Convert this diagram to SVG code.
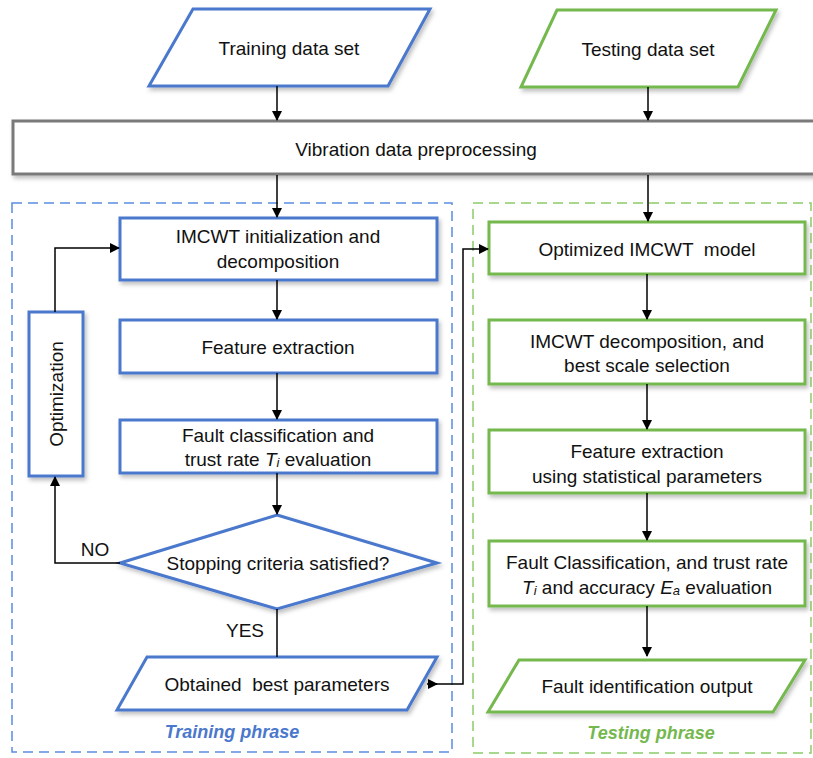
<svg xmlns="http://www.w3.org/2000/svg" width="813" height="758" viewBox="0 0 813 758">
<defs>
<filter id="sh" x="-10%" y="-10%" width="130%" height="140%">
<feDropShadow dx="2" dy="3" stdDeviation="2" flood-color="#000" flood-opacity="0.25"/>
</filter>
<marker id="ah" markerWidth="10" markerHeight="10" refX="9" refY="5" orient="auto" markerUnits="userSpaceOnUse">
<path d="M0,0 L10,5 L0,10 Z" fill="#000"/>
</marker>
</defs>
<style>
text{font-family:"Liberation Sans",Arial,sans-serif;font-size:19px;fill:#111;text-anchor:middle;dominant-baseline:central}
.b{fill:#fff;stroke:#4a78cc;stroke-width:3}
.g{fill:#fff;stroke:#74b84e;stroke-width:3}
.gr{fill:#fff;stroke:#7a7a7a;stroke-width:3}
.c{fill:none;stroke:#000;stroke-width:1.5}
.lbl{font-weight:bold;font-style:italic;font-size:18px}
.it{font-style:italic}
.sub{font-style:italic;font-size:13px}
</style>
<rect width="813" height="758" fill="#fff"/>
<g id="training-area">
<rect x="12" y="203" width="440" height="549" fill="none" stroke="#5b8ee0" stroke-width="1.5" stroke-dasharray="10,6"/>
<text class="lbl" x="232" y="732" style="fill:#4a78cc">Training phrase</text>
</g>
<g id="testing-area">
<rect x="473" y="203" width="338" height="550" fill="none" stroke="#8ccc6a" stroke-width="1.5" stroke-dasharray="10,6"/>
<text class="lbl" x="651" y="733" style="fill:#74b84e">Testing phrase</text>
</g>
<g id="training-data">
<polygon class="b" filter="url(#sh)" points="193,9 430,9 388,86 149,86"/>
<text x="289" y="48">Training data set</text>
</g>
<g id="testing-data">
<polygon class="g" filter="url(#sh)" points="557,10 776,10 738,87 521,87"/>
<text x="648" y="49">Testing data set</text>
</g>
<g id="preprocessing">
<rect class="gr" filter="url(#sh)" x="13" y="121" width="812" height="53"/>
<text x="416" y="149">Vibration data preprocessing</text>
</g>
<g id="imcwt-init">
<rect class="b" filter="url(#sh)" x="120" y="218" width="317" height="62"/>
<text x="278" y="236">IMCWT initialization and</text>
<text x="278" y="261">decomposition</text>
</g>
<g id="feature-extraction">
<rect class="b" filter="url(#sh)" x="120" y="320" width="317" height="53"/>
<text x="278" y="347">Feature extraction</text>
</g>
<g id="fault-classification">
<rect class="b" filter="url(#sh)" x="120" y="420" width="317" height="53"/>
<text x="278" y="435">Fault classification and</text>
<text x="278" y="459">trust rate <tspan class="it">T</tspan><tspan class="sub" dy="3">i</tspan><tspan dy="-3"> evaluation</tspan></text>
</g>
<g id="stopping">
<polygon class="b" filter="url(#sh)" points="277,515 437,563 277,609 120,563"/>
<text x="278" y="563">Stopping criteria satisfied?</text>
</g>
<g id="optimization">
<rect class="b" filter="url(#sh)" x="29" y="312" width="54" height="164"/>
<text x="56" y="394" transform="rotate(-90 56 394)">Optimization</text>
</g>
<g id="best-params">
<polygon class="b" filter="url(#sh)" points="147,657 437,657 407,710 117,710"/>
<text x="277" y="684" xml:space="preserve">Obtained  best parameters</text>
</g>
<g id="optimized-model">
<rect class="g" filter="url(#sh)" x="489" y="222" width="316" height="52"/>
<text x="647" y="249" xml:space="preserve">Optimized IMCWT  model</text>
</g>
<g id="imcwt-decomp">
<rect class="g" filter="url(#sh)" x="489" y="320" width="316" height="64"/>
<text x="647" y="341">IMCWT decomposition, and</text>
<text x="647" y="365">best scale selection</text>
</g>
<g id="feature-stat">
<rect class="g" filter="url(#sh)" x="489" y="430" width="316" height="63"/>
<text x="647" y="451">Feature extraction</text>
<text x="647" y="476">using statistical parameters</text>
</g>
<g id="fault-class-test">
<rect class="g" filter="url(#sh)" x="489" y="541" width="316" height="65"/>
<text x="647" y="562">Fault Classification, and trust rate</text>
<text x="647" y="587"><tspan class="it">T</tspan><tspan class="sub" dy="3">i</tspan><tspan dy="-3"> and accuracy </tspan><tspan class="it">E</tspan><tspan class="sub" dy="3">a</tspan><tspan dy="-3"> evaluation</tspan></text>
</g>
<g id="fault-output">
<polygon class="g" filter="url(#sh)" points="519,660 805,660 773,712 488,712"/>
<text x="647" y="686">Fault identification output</text>
</g>
<g id="connectors">
<line class="c" x1="277" y1="86" x2="277" y2="120" marker-end="url(#ah)"/>
<line class="c" x1="648" y1="87" x2="648" y2="120" marker-end="url(#ah)"/>
<line class="c" x1="277" y1="175" x2="277" y2="217" marker-end="url(#ah)"/>
<line class="c" x1="648" y1="175" x2="648" y2="221" marker-end="url(#ah)"/>
<line class="c" x1="277" y1="280" x2="277" y2="319" marker-end="url(#ah)"/>
<line class="c" x1="277" y1="373" x2="277" y2="419" marker-end="url(#ah)"/>
<line class="c" x1="277" y1="473" x2="277" y2="514" marker-end="url(#ah)"/>
<polyline class="c" points="120,563 55,563 55,477" marker-end="url(#ah)"/>
<text x="95" y="549">NO</text>
<polyline class="c" points="55,312 55,248 119,248" marker-end="url(#ah)"/>
<line class="c" x1="277" y1="609" x2="277" y2="657"/>
<text x="245" y="630">YES</text>
<line class="c" x1="427" y1="684" x2="437" y2="684" marker-end="url(#ah)"/>
<polyline class="c" points="436,684 463,684 463,249 488,249" marker-end="url(#ah)"/>
<line class="c" x1="647" y1="274" x2="647" y2="319" marker-end="url(#ah)"/>
<line class="c" x1="647" y1="384" x2="647" y2="429" marker-end="url(#ah)"/>
<line class="c" x1="647" y1="493" x2="647" y2="540" marker-end="url(#ah)"/>
<line class="c" x1="647" y1="606" x2="647" y2="656" marker-end="url(#ah)"/>
</g>
</svg>
